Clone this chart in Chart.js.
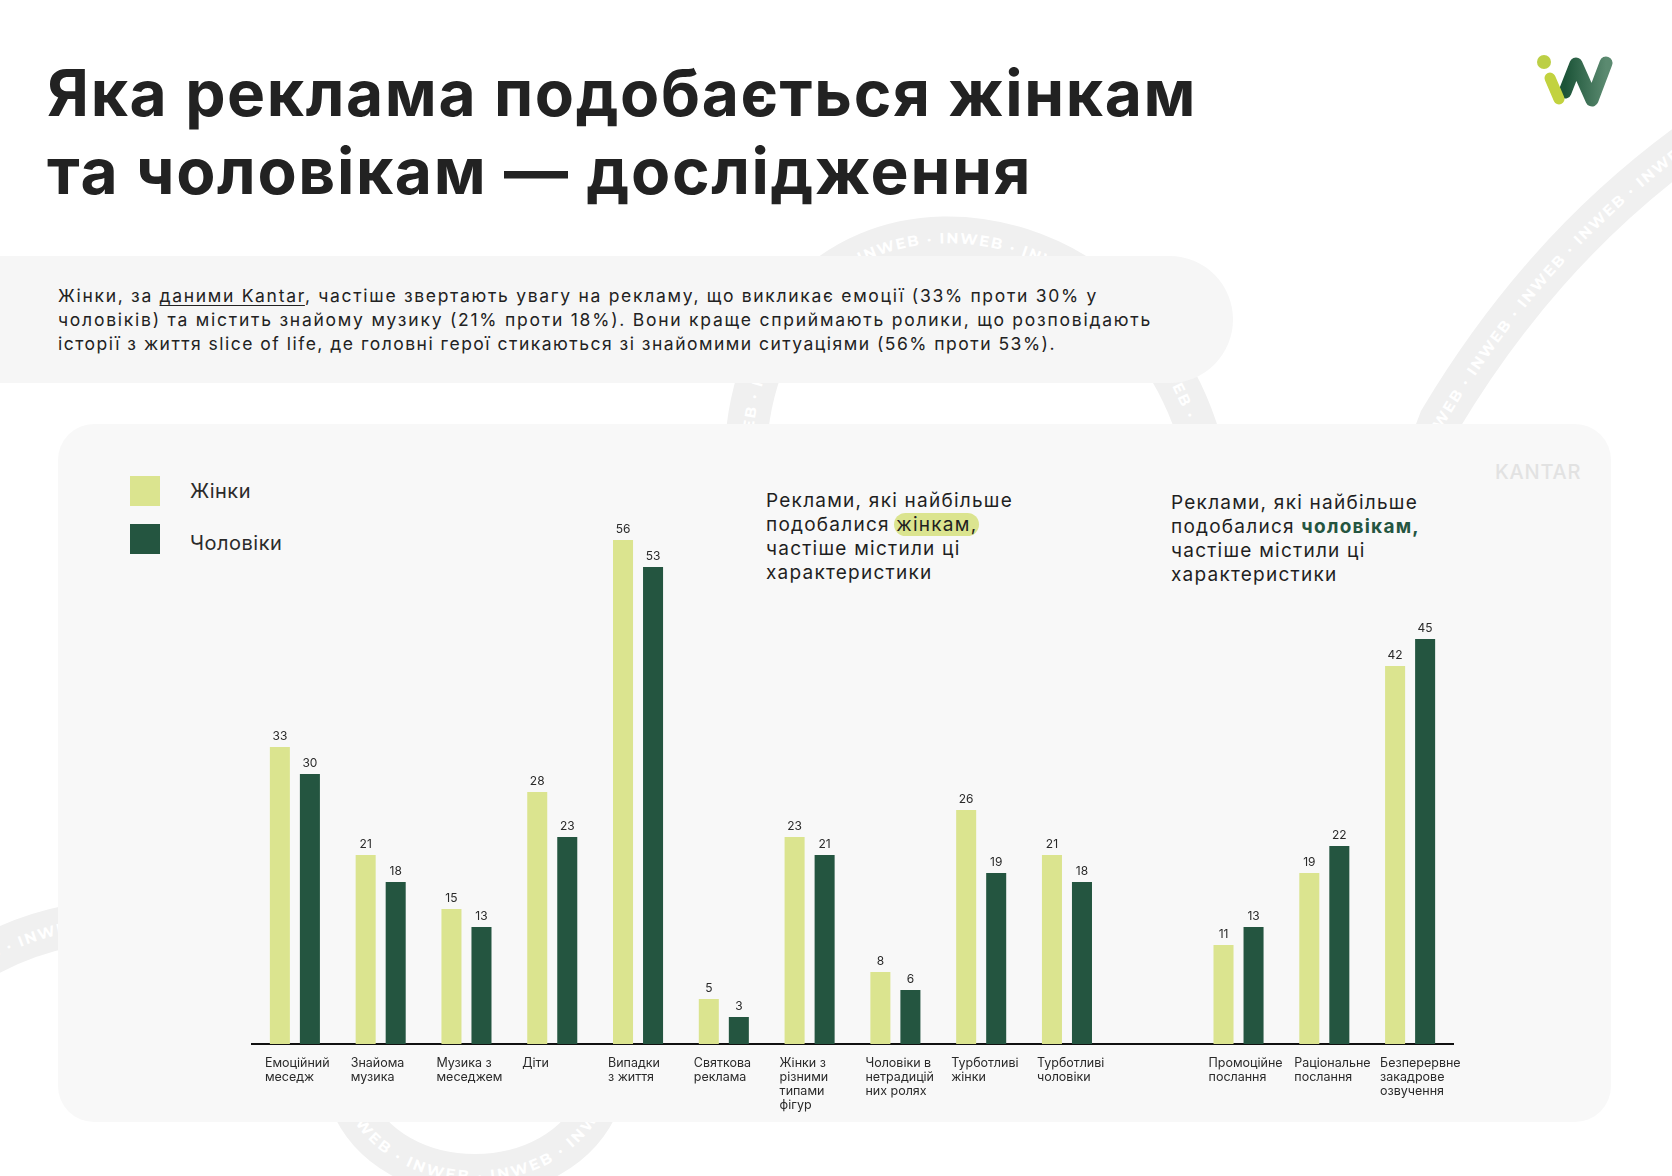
<!doctype html>
<html lang="uk">
  <head>
    <meta charset="utf-8">
    <title>Яка реклама подобається жінкам та чоловікам</title>
    <style>
      * { margin: 0; padding: 0; box-sizing: border-box; }
      body {
        width: 1672px; height: 1176px; overflow: hidden;
        background: #fff; position: relative;
        font-family: Inter, "Noto Sans", sans-serif; color: #1f1f1f;
      }
      .abs { position: absolute; }
      .title { left: 47px; top: 54px; font-size: 64px; line-height: 78px; font-weight: 700; color: #222; }
      .line { display: inline-block; white-space: nowrap; }
      .panel { left: 0; top: 256px; width: 1233px; height: 127px; background: #f6f6f6; border-radius: 0 64px 64px 0; }
      .para { left: 58px; top: 284px; font-size: 17.5px; line-height: 24px; color: #222; }
      .para u { text-underline-offset: 3px; text-decoration-thickness: 1px; }
      .card { left: 58px; top: 424px; width: 1553px; height: 698px; background: #f8f8f8; border-radius: 36px; }
      .sw { width: 30px; height: 30px; }
      .leg { font-size: 20px; line-height: 24px; color: #2b2b2b; letter-spacing: 0.5px; }
      .note { font-size: 19px; line-height: 24px; color: #1f1f1f; }
      .hl { background: #dbe48f; border-radius: 12px; padding: 0 2px; margin: 0 -2px; }
      .kantar { left: 1495px; top: 460px; font-size: 20px; line-height: 24px; font-weight: 500; color: #e2e2e2; letter-spacing: 0.8px; }
      canvas { position: absolute; left: 0; top: 0; }
    </style>
  </head>
  <body>
    <svg class="abs" style="left:0;top:0" width="1672" height="1176">
      <g fill="none" stroke="#f0f0f0" stroke-width="42">
        <path id="r1" d="M745 470 C745 160 1120 170 1200 440 C1260 600 1390 560 1440 420 C1500 320 1580 220 1700 135"/>
        <path id="r2" d="M-20 960 C80 900 290 880 350 1100 C390 1200 560 1200 600 1100 C640 980 700 950 760 900"/>
      </g>
      <g fill="#fff" font-family="Montserrat, Inter, sans-serif" font-weight="700" font-size="15" letter-spacing="2" dominant-baseline="central">
        <text id="t1"><textPath href="#r1"></textPath></text>
        <text id="t2"><textPath href="#r2" startOffset="10"></textPath></text>
      </g>
    </svg>

    <div class="abs title"><span class="line" data-w="1150">Яка реклама подобається жінкам</span><br><span class="line" data-w="985">та чоловікам — дослідження</span></div>

    <div class="abs panel"></div>
    <div class="abs para">
      <span class="line" data-w="1040">Жінки, за <u>даними Kantar</u>, частіше звертають увагу на рекламу, що викликає емоції (33% проти 30% у</span><br>
      <span class="line" data-w="1094">чоловіків) та містить знайому музику (21% проти 18%). Вони краще сприймають ролики, що розповідають</span><br>
      <span class="line" data-w="998">історії з життя slice of life, де головні герої стикаються зі знайомими ситуаціями (56% проти 53%).</span>
    </div>

    <div class="abs card"></div>

    <div class="abs sw" style="left:130px;top:476px;background:#dbe48f"></div>
    <div class="abs leg" style="left:190px;top:479px">Жінки</div>
    <div class="abs sw" style="left:130px;top:524px;background:#245540"></div>
    <div class="abs leg" style="left:190px;top:531px">Чоловіки</div>

    <div class="abs note" style="left:766px;top:489px">
      <span class="line" data-w="247">Реклами, які найбільше</span><br>
      <span class="line">подобалися <span class="hl">жінкам,</span></span><br>
      <span class="line">частіше містили ці</span><br>
      <span class="line">характеристики</span>
    </div>
    <div class="abs note" style="left:1171px;top:491px">
      <span class="line" data-w="247">Реклами, які найбільше</span><br>
      <span class="line">подобалися <b style="color:#245540">чоловікам,</b></span><br>
      <span class="line">частіше містили ці</span><br>
      <span class="line">характеристики</span>
    </div>

    <div class="abs kantar">KANTAR</div>

    <canvas id="myChart" width="1672" height="1176"></canvas>

    <svg class="abs" style="left:0;top:0" width="1672" height="1176">
      <defs>
        <linearGradient id="wg" x1="0" x2="1" y1="0" y2="0">
          <stop offset="0" stop-color="#1c5438"/>
          <stop offset="1" stop-color="#5b8a70"/>
        </linearGradient>
      </defs>
      <polyline points="1565,92 1576,64 1592,100 1606,63" fill="none" stroke="url(#wg)" stroke-width="13" stroke-linecap="round" stroke-linejoin="round"/>
      <circle cx="1544" cy="62" r="7" fill="#bccf45"/>
      <line x1="1550" y1="78" x2="1559" y2="99" stroke="#c2d23f" stroke-width="11" stroke-linecap="round"/>
    </svg>

    <script src="https://cdn.jsdelivr.net/npm/chart.js/dist/chart.umd.min.js"></script>
    <script>
    // data
    const categories = [
      ['Емоційний', 'меседж'],
      ['Знайома', 'музика'],
      ['Музика з', 'меседжем'],
      ['Діти'],
      ['Випадки', 'з життя'],
      ['Святкова', 'реклама'],
      ['Жінки з', 'різними', 'типами', 'фігур'],
      ['Чоловіки в', 'нетрадицій', 'них ролях'],
      ['Турботливі', 'жінки'],
      ['Турботливі', 'чоловіки'],
      '',
      ['Промоційне', 'послання'],
      ['Раціональне', 'послання'],
      ['Безперервне', 'закадрове', 'озвучення']
    ];
    const women = [33, 21, 15, 28, 56, 5, 23, 8, 26, 21, null, 11, 19, 42];
    const men = [30, 18, 13, 23, 53, 3, 21, 6, 19, 18, null, 13, 22, 45];

    // watermark text on the ribbons
    document.querySelector('#t1 textPath').textContent = 'INWEB · '.repeat(30);
    document.querySelector('#t2 textPath').textContent = 'B · ' + 'INWEB · '.repeat(16);

    // stretch text lines to the widths in the picture
    document.querySelectorAll('[data-w]').forEach(el => {
      const w = el.getBoundingClientRect().width;
      const n = el.textContent.length;
      const ls = (+el.dataset.w - w) / n;
      el.style.letterSpacing = ls + 'px';
      if (el.parentElement.classList.contains('note')) el.parentElement.style.letterSpacing = ls + 'px';
    });

    // numbers above bars
    const valueLabels = {
      id: 'valueLabels',
      afterDatasetsDraw(chart) {
        const ctx = chart.ctx;
        ctx.save();
        ctx.font = '12px Inter, sans-serif';
        ctx.fillStyle = '#2a2a2a';
        ctx.textAlign = 'center';
        ctx.textBaseline = 'bottom';
        chart.data.datasets.forEach((ds, i) => {
          chart.getDatasetMeta(i).data.forEach((bar, j) => {
            if (ds.data[j] == null) return;
            ctx.fillText(ds.data[j], bar.x, bar.y - 5);
          });
        });
        ctx.restore();
      }
    };

    const config = {
      type: 'bar',
      data: {
        labels: categories,
        datasets: [{
          label: 'Жінки',
          data: women,
          backgroundColor: '#dbe48f'
        }, {
          label: 'Чоловіки',
          data: men,
          backgroundColor: '#245540'
        }]
      },
      options: {
        responsive: false,
        animation: false,
        devicePixelRatio: 1,
        categoryPercentage: 0.7,
        barPercentage: 0.667,
        layout: { padding: { left: 252, right: 219, top: 504, bottom: 32 } },
        plugins: { legend: { display: false }, tooltip: { enabled: false } },
        scales: {
          x: {
            grid: { display: false, drawTicks: false },
            border: { display: true, color: '#111', width: 2 },
            afterFit: (scale) => { scale.height = 100; },
            ticks: {
              autoSkip: false,
              maxRotation: 0,
              align: 'start',
              labelOffset: -30,
              padding: 12,
              color: '#2a2a2a',
              font: { family: 'Inter, sans-serif', size: 12.5, lineHeight: 1.12 }
            }
          },
          y: {
            display: false,
            min: 0,
            max: 60
          }
        }
      },
      plugins: [valueLabels]
    };

    const myChart = new Chart(document.getElementById('myChart'), config);
    </script>
  </body>
</html>
